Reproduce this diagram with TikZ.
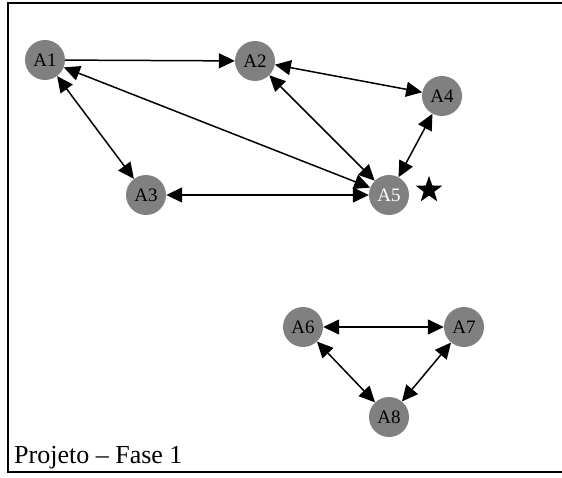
\documentclass[tikz,border=0pt]{standalone}
\usepackage{fontspec}
\setmainfont{Liberation Serif}
\usetikzlibrary{arrows.meta,shapes.geometric}

\tikzset{agent/.style={circle,fill=agentgray,minimum size=40pt,inner sep=0pt,font=\fontsize{19}{19}\selectfont},
link/.style={line width=1.5pt,{Triangle[length=16pt,width=15pt]}-{Triangle[length=16pt,width=15pt]}},
one way/.style={line width=1.5pt,-{Triangle[length=16pt,width=15pt]}},
frame line/.style={line width=1.6pt},
mark star/.style={star,star points=5,star point ratio=2.5,fill=black,minimum size=28pt,inner sep=0pt},
caption/.style={font=\fontsize{26}{26}\selectfont,anchor=base west,inner sep=0pt}}
\definecolor{agentgray}{RGB}{128,128,128}

\begin{document}
\begin{tikzpicture}[x=1pt,y=-1pt]
\useasboundingbox (0,0) rectangle (562,478);

%% frame (open on the right)
\draw [frame line] (562,3) -- (8,3) -- (8,472) -- (562,472);

%% nodes
\node [agent] (a1) at (45,60) {A1};
\node [agent] (a2) at (255,61) {A2};
\node [agent] (a3) at (146,195) {A3};
\node [agent] (a4) at (442,96) {A4};
\node [agent,text=white] (a5) at (389,195) {A5};
\node [mark star] (star) at (429,190) {};
\node [agent] (a6) at (303,327) {A6};
\node [agent] (a7) at (464,327) {A7};
\node [agent] (a8) at (389,417) {A8};

%% connectors
\draw [one way] (a1) -- (a2);
\draw [link] (a1) -- (a3);
\draw [link] (a1) -- (a5);
\draw [link] (a2) -- (a4);
\draw [link] (a2) -- (a5);
\draw [link] (a4) -- (a5);
\draw [link] (a3) -- (a5);
\draw [link] (a6) -- (a7);
\draw [link] (a6) -- (a8);
\draw [link] (a7) -- (a8);

%% caption
\node [caption] (title) at (14,463) {Projeto – Fase 1};

\end{tikzpicture}
\end{document}
